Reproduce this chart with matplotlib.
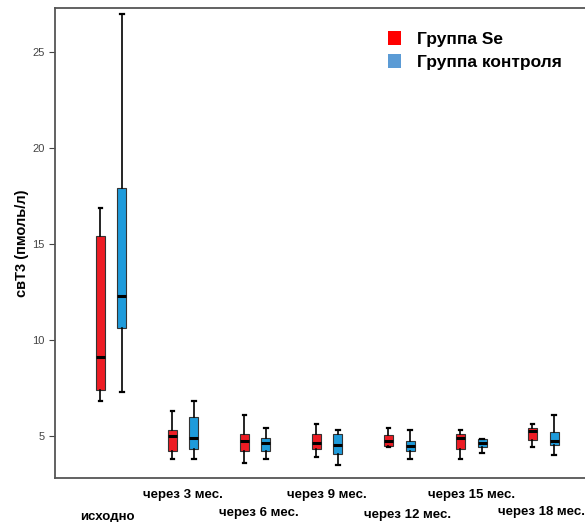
import matplotlib.pyplot as plt
from matplotlib.patches import Patch

plt.rcParams['font.family'] = ['Liberation Sans', 'DejaVu Sans']

groups = ['исходно', 'через 3 мес.', 'через 6 мес.', 'через 9 мес.',
          'через 12 мес.', 'через 15 мес.', 'через 18 мес.']

# (нижний ус, Q1, медиана, Q3, верхний ус)
se_low = [6.8, 3.8, 3.6, 3.9, 4.4, 3.8, 4.4]
se_q1 = [7.4, 4.2, 4.2, 4.3, 4.48, 4.3, 4.8]
se_med = [9.1, 5.0, 4.72, 4.64, 4.72, 4.9, 5.25]
se_q3 = [15.4, 5.3, 5.1, 5.1, 5.04, 5.1, 5.4]
se_high = [16.9, 6.3, 6.1, 5.6, 5.4, 5.3, 5.6]

ctl_low = [7.3, 3.8, 3.8, 3.5, 3.8, 4.1, 4.0]
ctl_q1 = [10.6, 4.3, 4.2, 4.03, 4.2, 4.4, 4.5]
ctl_med = [12.3, 4.86, 4.65, 4.5, 4.48, 4.65, 4.72]
ctl_q3 = [17.9, 6.0, 4.9, 5.1, 4.72, 4.83, 5.2]
ctl_high = [27.0, 6.8, 5.4, 5.3, 5.3, 4.83, 6.1]

red = '#ED1C24'
blue = '#1E9BDB'


def make_stats(low, q1, med, q3, high):
    return [dict(whislo=a, q1=b, med=c, q3=d, whishi=e, fliers=[])
            for a, b, c, d, e in zip(low, q1, med, q3, high)]


fig = plt.figure(figsize=(5.85, 5.22), dpi=100)
ax = fig.add_axes([0.094, 0.0843, 0.906, 0.9004])

off = 0.15
pos = list(range(len(groups)))
for stats, color, d in [(make_stats(se_low, se_q1, se_med, se_q3, se_high), red, -off),
                        (make_stats(ctl_low, ctl_q1, ctl_med, ctl_q3, ctl_high), blue, off)]:
    ax.bxp(stats, positions=[p + d for p in pos], widths=0.125, patch_artist=True,
           boxprops=dict(facecolor=color, edgecolor='#333333', linewidth=0.8),
           medianprops=dict(color='black', linewidth=2.2),
           whiskerprops=dict(color='black', linewidth=1.2),
           capprops=dict(color='black', linewidth=1.6),
           capwidths=0.05, manage_ticks=False)

ax.set_xlim(-0.78, 6.58)
ax.set_ylim(2.8, 27.3)
ax.set_yticks([5, 10, 15, 20, 25])
ax.tick_params(axis='y', labelsize=8, labelcolor='#444444', color='#444444', length=4)
ax.set_xticks([])
for s in ['left', 'top', 'bottom']:
    ax.spines[s].set_color('#555555')
    ax.spines[s].set_linewidth(1.3)
ax.spines['right'].set_visible(False)

ax.set_ylabel('свТ3 (пмоль/л)', fontsize=10.5, fontweight='bold', labelpad=2)

# подписи по оси X в два ряда
label_y = [-0.083, -0.037, -0.074, -0.037, -0.079, -0.037, -0.072]
label_dx = [-0.05, 0.0, 0.05, 0.0, 0.12, 0.0, -0.03]
for i, g in enumerate(groups):
    ax.text(i + label_dx[i], label_y[i], g, transform=ax.get_xaxis_transform(),
            ha='center', va='center', fontsize=9.5, fontweight='bold')

handles = [Patch(facecolor='#FF0000', label='Группа Se'),
           Patch(facecolor='#5B9BD5', label='Группа контроля')]
leg = ax.legend(handles=handles, loc='upper right', bbox_to_anchor=(0.985, 0.985),
                frameon=False, prop=dict(size=12.5, weight='bold'),
                handlelength=0.75, handleheight=0.85, handletextpad=0.9, labelspacing=0.45)

fig.savefig('out.png', dpi=100)
